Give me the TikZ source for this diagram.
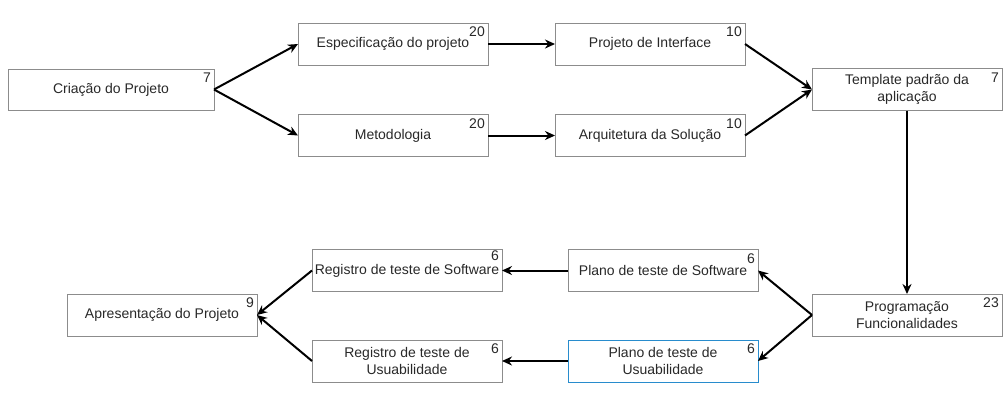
\documentclass[tikz,border=0pt]{standalone}
\usepackage{fontspec}
\setmainfont{Liberation Sans}
\definecolor{edge}{RGB}{140,140,140}
\definecolor{sel}{RGB}{40,140,205}
\definecolor{txt}{RGB}{40,40,40}
\usetikzlibrary{
  positioning,     % right=of etc.
  arrows.meta      % Stealth tips
}
\tikzset{
    task/.style = {
        rectangle,
        draw=edge,
        line width=0.8pt,
        minimum width=190pt,
        minimum height=42pt,
        inner sep=2pt,
        outer sep=0pt,
        align=center,
        text=txt,
        font=\fontsize{14}{17}\selectfont
    },
    wide/.append style = {minimum width=206pt, minimum height=41pt},
    picked/.append style = {draw=sel, line width=1pt},
    num/.style = {
        anchor=north east,
        inner xsep=3pt,
        inner ysep=4pt,
        text=txt,
        font=\fontsize{14}{16}\selectfont
    },
    link/.style = {->, line width=2pt, black},
    >={Stealth[length=10pt, width=9pt]}
}

\begin{document}
\begin{tikzpicture}
  \useasboundingbox (0pt,0pt) rectangle (1006pt,-405pt);

  %% start
  \node [task, wide] (CP) at (111pt,-89.5pt) {Criação do Projeto};

  %% upper branches
  \node [task, right=84pt of CP, yshift=45.5pt] (EP) {Especificação do projeto};
  \node [task, right=84pt of CP, yshift=-46pt] (MET) {Metodologia};
  \node [task, right=67pt of EP] (PI) {Projeto de Interface};
  \node [task, right=67pt of MET] (AS) {Arquitetura da Solução};
  \node [task, right=67pt of PI, yshift=-45.5pt] (TP) {Template padrão da\\aplicação};

  %% programming
  \node [task, below=183.5pt of TP] (PF) {Programação\\Funcionalidades};

  %% tests
  \node [task, left=54pt of PF, yshift=44.5pt] (PS) {Plano de teste de Software};
  \node [task, picked, left=54pt of PF, yshift=-46pt] (PU) {Plano de teste de\\Usuabilidade};
  \node [task, left=66pt of PS] (RS) {Registro de teste de Software};
  \node [task, left=66pt of PU] (RU) {Registro de teste de\\Usuabilidade};

  %% end
  \node [task, left=55pt of RS, yshift=-44.5pt] (AP) {Apresentação do Projeto};

  %% durations
  \node [num] (nCP) at (CP.north east) {7};
  \node [num] (nEP) at (EP.north east) {20};
  \node [num] (nMET) at (MET.north east) {20};
  \node [num] (nPI) at (PI.north east) {10};
  \node [num] (nAS) at (AS.north east) {10};
  \node [num] (nTP) at (TP.north east) {7};
  \node [num] (nPF) at (PF.north east) {23};
  \node [num] (nPS) at (PS.north east) {6};
  \node [num] (nPU) at (PU.north east) {6};
  \node [num, yshift=2.5pt] (nRS) at (RS.north east) {6};
  \node [num] (nRU) at (RU.north east) {6};
  \node [num] (nAP) at (AP.north east) {9};

  %% connectors
  \draw [link] (CP.east) -- (EP.west);
  \draw [link] (CP.east) -- (MET.west);
  \draw [link] (EP) -- (PI);
  \draw [link] (MET) -- (AS);
  \draw [link] (PI.east) -- (TP.west);
  \draw [link] (AS.east) -- (TP.west);
  \draw [link] (TP) -- (PF);
  \draw [link] (PF.west) -- (PS.east);
  \draw [link] (PF.west) -- (PU.east);
  \draw [link] (PS) -- (RS);
  \draw [link] (PU) -- (RU);
  \draw [link] (RS.west) -- (AP.east);
  \draw [link] (RU.west) -- (AP.east);

\end{tikzpicture}
\end{document}
